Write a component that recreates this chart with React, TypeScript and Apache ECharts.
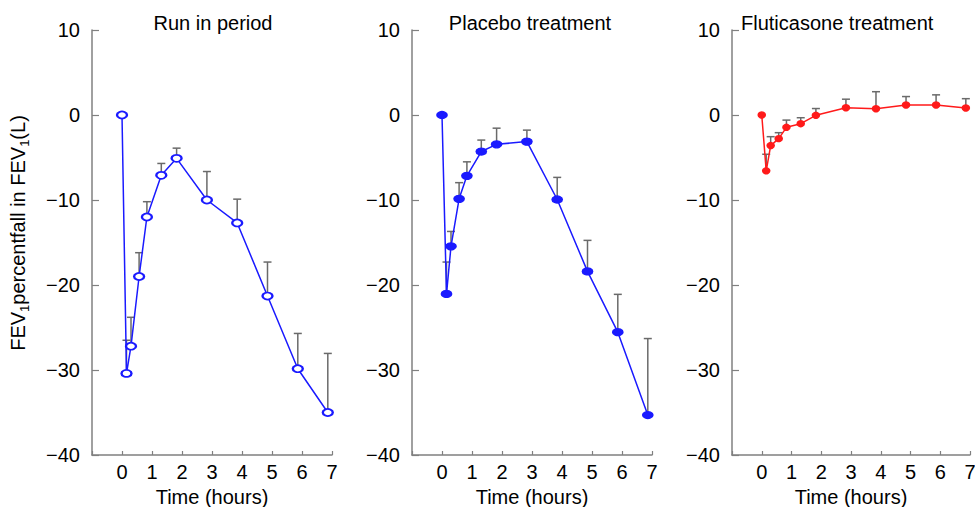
import React, { useEffect, useRef } from "react";
import * as echarts from "echarts";

const times = [0, 0.15, 0.3, 0.57, 0.83, 1.31, 1.82, 2.83, 3.84, 4.85, 5.86, 6.86];
const runIn = [0, -30.4, -27.2, -19.0, -12.0, -7.1, -5.1, -10.0, -12.7, -21.3, -29.85, -35.0];
const runInSD = [0, 3.9, 3.4, 2.8, 1.8, 1.4, 1.2, 3.35, 2.8, 4.0, 4.15, 6.95];
const placebo = [0, -21.05, -15.45, -9.86, -7.16, -4.3, -3.45, -3.13, -9.94, -18.4, -25.55, -35.3];
const placeboSD = [0, 3.75, 1.75, 1.9, 1.65, 1.35, 1.9, 1.35, 2.6, 3.65, 4.45, 9.0];
const flut = [0, -6.57, -3.6, -2.78, -1.45, -1.02, -0.04, 0.86, 0.74, 1.17, 1.17, 0.82];
const flutSD = [0, 1.95, 1.05, 0.7, 0.85, 0.7, 0.8, 1.0, 2.0, 1.0, 1.2, 1.1];
const panelTitles = ["Run in period", "Placebo treatment", "Fluticasone treatment"];
const xName = "Time (hours)";

const FONT = "'Liberation Sans', Arial, Helvetica, sans-serif";

export default function App() {
  const ref = useRef<HTMLDivElement>(null);
  useEffect(() => {
    if (!ref.current) return;
    const chart = echarts.init(ref.current, undefined, { renderer: "svg" });
    const grids = [
      { left: 92, width: 240, top: 30, height: 425, outerBoundsMode: "none", containLabel: false },
      { left: 412, width: 240, top: 30, height: 425, outerBoundsMode: "none", containLabel: false },
      { left: 732, width: 238, top: 30, height: 425, outerBoundsMode: "none", containLabel: false },
    ];
    const axisColor = "#808080";
    const xAxes = grids.map((_, i) => ({
      type: "value",
      gridIndex: i,
      min: -1,
      max: 7,
      interval: 1,
      name: xName,
      nameLocation: "middle",
      nameGap: 27,
      nameTextStyle: { fontFamily: FONT, fontSize: 20, color: "#000", lineHeight: 20 },
      axisLine: { show: true, onZero: false, lineStyle: { color: axisColor, width: 1.5 } },
      axisTick: { show: true, inside: true, length: 4, lineStyle: { color: axisColor, width: 1.2 } },
      axisLabel: {
        fontFamily: FONT,
        fontSize: 20,
        color: "#000",
        margin: 7,
        formatter: (v: number) => (v < 0 ? "" : String(v)),
      },
      splitLine: { show: false },
    }));
    const yAxes = grids.map((_, i) => ({
      type: "value",
      gridIndex: i,
      min: -40,
      max: 10,
      interval: 10,
      axisLine: { show: true, onZero: false, lineStyle: { color: axisColor, width: 1.5 } },
      axisTick: { show: true, inside: true, length: 7, lineStyle: { color: axisColor, width: 1.2 } },
      axisLabel: {
        fontFamily: FONT,
        fontSize: 20,
        color: "#000",
        margin: 12,
        formatter: (v: number) => String(v).replace("-", "\u2212"),
      },
      splitLine: { show: false },
    }));

    const errSeries = (idx: number, vals: number[], sds: number[]) => ({
      type: "custom",
      xAxisIndex: idx,
      yAxisIndex: idx,
      z: 1,
      data: times.map((t, k) => [t, vals[k], vals[k] + sds[k]]),
      renderItem: (_p: any, api: any) => {
        const p = api.coord([api.value(0), api.value(1)]);
        const top = api.coord([api.value(0), api.value(2)]);
        if (Math.abs(p[1] - top[1]) < 0.5) return null;
        const style = { stroke: "#6a6a6a", lineWidth: 1.5 };
        return {
          type: "group",
          children: [
            { type: "line", shape: { x1: p[0], y1: p[1], x2: top[0], y2: top[1] }, style },
            { type: "line", shape: { x1: top[0] - 4, y1: top[1], x2: top[0] + 4, y2: top[1] }, style },
          ],
        };
      },
    });

    const lineSeries = (idx: number, vals: number[], color: string, symbol: string, size: number[]) => ({
      type: "line",
      xAxisIndex: idx,
      yAxisIndex: idx,
      z: 3,
      data: times.map((t, k) => [t, vals[k]]),
      symbol,
      symbolSize: size,
      showAllSymbol: true,
      lineStyle: { color, width: 1.5 },
      itemStyle: { color, borderColor: color, borderWidth: 1.5 },
    });

    chart.setOption({
      animation: false,
      grid: grids,
      xAxis: xAxes,
      yAxis: yAxes,
      series: [
        errSeries(0, runIn, runInSD),
        errSeries(1, placebo, placeboSD),
        errSeries(2, flut, flutSD),
        lineSeries(0, runIn, "#1a1aff", "emptyCircle", [10, 7]),
        lineSeries(1, placebo, "#1a1aff", "circle", [10, 7]),
        lineSeries(2, flut, "#ff1a1a", "circle", [7, 6]),
      ],
      graphic: [
        { type: "text", x: 213, y: 23, style: { text: panelTitles[0], font: `20px ${FONT}`, fill: "#000", align: "center", verticalAlign: "middle" } },
        { type: "text", x: 530, y: 23, style: { text: panelTitles[1], font: `20px ${FONT}`, fill: "#000", align: "center", verticalAlign: "middle" } },
        { type: "text", x: 741, y: 23, style: { text: panelTitles[2], font: `20px ${FONT}`, fill: "#000", align: "left", verticalAlign: "middle" } },
        {
          type: "text",
          x: 18,
          y: 233,
          rotation: Math.PI / 2,
          style: {
            text: "{a|FEV}{s|1}{a|percentfall in FEV}{s|1}{a|(L)}",
            align: "center",
            verticalAlign: "middle",
            fill: "#000",
            rich: {
              a: { fontFamily: FONT, fontSize: 20, lineHeight: 26, fill: "#000", verticalAlign: "middle" },
              s: { fontFamily: FONT, fontSize: 13, lineHeight: 26, fill: "#000", verticalAlign: "bottom" },
            },
          },
        },
      ],
    });
    return () => chart.dispose();
  }, []);
  return <div ref={ref} style={{ position: "absolute", left: 0, top: 0, width: 975, height: 507 }} />;
}
